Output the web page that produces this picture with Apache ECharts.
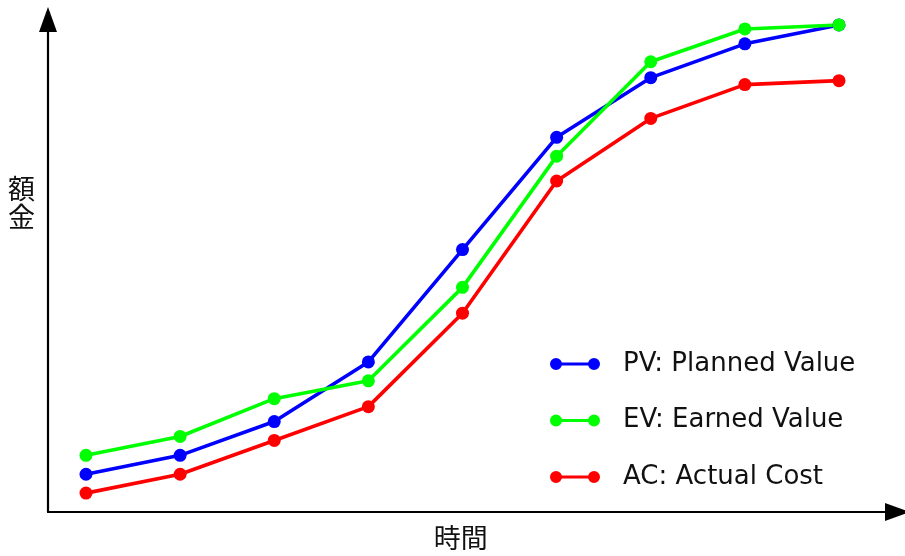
<!DOCTYPE html>
<html>
<head>
<meta charset="utf-8">
<script src="https://cdn.jsdelivr.net/npm/echarts@6/dist/echarts.min.js"></script>
<style>
  html, body { margin: 0; padding: 0; background: #fff; }
  #chart { width: 905px; height: 556px; }
</style>
</head>
<body>
<div id="chart"></div>
<script>
// 期間（横軸：時間）
var periods = [1, 2, 3, 4, 5, 6, 7, 8, 9];
// PV / EV / AC の累積額（縦軸：額金）
var pvValues = [7.6, 11.4, 18.2, 30.2, 52.8, 75.4, 87.4, 94.2, 98.0];
var evValues = [11.4, 15.2, 22.8, 26.4, 45.2, 71.6, 90.6, 97.2, 98.0];
var acValues = [3.8, 7.6, 14.4, 21.2, 40.0, 66.6, 79.2, 86.0, 86.8];
var seriesNames = ['PV: Planned Value', 'EV: Earned Value', 'AC: Actual Cost'];
var seriesColors = ['#0000ff', '#00ff00', '#ff0000'];

function pairs(vals) {
    return periods.map(function (p, i) { return [p, vals[i]]; });
}

// 凡例アイコン（両端に丸のついた線）
var dumbbell = 'path://M0,6A6,6 0 1,1 12,6A6,6 0 1,1 0,6Z M38,6A6,6 0 1,1 50,6A6,6 0 1,1 38,6Z M6,4.5L44,4.5L44,7.5L6,7.5Z';

var axisLine = {
    show: true,
    symbol: ['none', 'triangle'],
    symbolSize: [18, 25],
    lineStyle: { color: '#000', width: 2.2 }
};

var myChart = echarts.init(document.getElementById('chart'));
var option = {
    animation: false,
    color: seriesColors,
    grid: { left: 48, right: 7.5, top: 19.5, bottom: 41 },
    legend: {
        orient: 'vertical',
        left: 550,
        top: 349,
        padding: 0,
        itemWidth: 50,
        itemHeight: 12,
        itemGap: 26.5,
        icon: dumbbell,
        textStyle: {
            fontFamily: 'DejaVu Sans',
            fontSize: 26,
            lineHeight: 30,
            color: '#111',
            padding: [0, 0, 0, 18]
        },
        data: seriesNames
    },
    graphic: [{
        type: 'text',
        left: 8,
        top: 175,
        style: {
            text: '額\n金',
            fontFamily: 'Noto Sans CJK JP',
            fontSize: 27,
            lineHeight: 28,
            fill: '#111'
        }
    }],
    xAxis: {
        type: 'value',
        min: 0.5963,
        max: 9.6215,
        name: '時間',
        nameLocation: 'middle',
        nameGap: 12,
        nameTextStyle: {
            fontFamily: 'Noto Sans CJK JP',
            fontSize: 27,
            color: '#111',
            padding: [0, 24, 0, 0]
        },
        axisLine: axisLine,
        axisTick: { show: false },
        axisLabel: { show: false },
        splitLine: { show: false }
    },
    yAxis: {
        type: 'value',
        min: 0,
        max: 99.1,
        axisLine: axisLine,
        axisTick: { show: false },
        axisLabel: { show: false },
        splitLine: { show: false }
    },
    series: [
        {
            name: seriesNames[0],
            type: 'line',
            data: pairs(pvValues),
            symbol: 'circle',
            symbolSize: 13,
            lineStyle: { width: 3.6 }
        },
        {
            name: seriesNames[1],
            type: 'line',
            data: pairs(evValues),
            symbol: 'circle',
            symbolSize: 13,
            lineStyle: { width: 3.6 }
        },
        {
            name: seriesNames[2],
            type: 'line',
            data: pairs(acValues),
            symbol: 'circle',
            symbolSize: 13,
            lineStyle: { width: 3.6 }
        }
    ]
};
myChart.setOption(option);
</script>
</body>
</html>
